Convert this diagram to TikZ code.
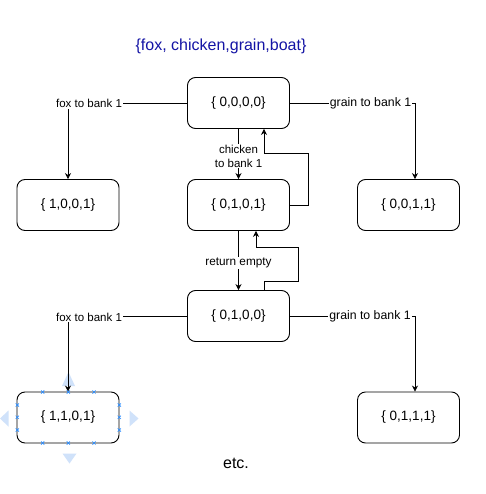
\documentclass[tikz,border=0pt]{standalone}
\usepackage{fontspec}
\setmainfont{Liberation Sans}
\usetikzlibrary{arrows.meta}
\definecolor{titleblue}{RGB}{20,20,165}
\definecolor{handlefill}{RGB}{208,226,250}
\definecolor{handlemark}{RGB}{40,140,255}
\tikzset{
  statebox/.style={draw, line width=0.9pt, rounded corners=8pt, minimum width=102pt, minimum height=51pt, inner sep=0pt, font=\fontsize{13.5}{15}\selectfont},
  edgelbl/.style={fill=white, inner sep=1pt, font=\fontsize{11.5}{13}\selectfont},
  link/.style={line width=0.8pt, -{Stealth[length=6pt,width=6pt]}},
  xmark/.pic={\draw[handlemark, line width=0.7pt] (-1.6,-1.6) -- (1.6,1.6) (-1.6,1.6) -- (1.6,-1.6);}
}
\begin{document}
\begin{tikzpicture}[x=1pt,y=-1pt]
\useasboundingbox[fill=white] (0,0) rectangle (485,494);

% title and footer
\node[text=titleblue, font=\fontsize{16}{18}\selectfont] (title) at (221,46) {\{fox, chicken,grain,boat\}};
\node[font=\fontsize{16}{18}\selectfont] (etc) at (236,463) {etc.};

% selection handles (under)
\fill[handlefill] (68.5,372) -- (75,386) -- (62,386) -- cycle;
\fill[handlefill] (0,418.5) -- (8.5,410.5) -- (8.5,426.5) -- cycle;
\fill[handlefill] (138.5,418.5) -- (129.5,410.5) -- (129.5,426.5) -- cycle;
\fill[handlefill] (69.5,463.5) -- (62.5,453.5) -- (76.5,453.5) -- cycle;

% states
\node[statebox] (n0) at (238.5,103) {\{ 0,0,0,0\}};
\node[statebox] (n1) at (68,205) {\{ 1,0,0,1\}};
\node[statebox] (n2) at (238.5,205) {\{ 0,1,0,1\}};
\node[statebox] (n3) at (408.5,205) {\{ 0,0,1,1\}};
\node[statebox] (n4) at (238.5,316) {\{ 0,1,0,0\}};
\node[statebox] (n5) at (68,417.5) {\{ 1,1,0,1\}};
\node[statebox] (n6) at (408.5,417.5) {\{ 0,1,1,1\}};

% connectors
\draw[link] (n0.west) -| (n1.north);
\draw[link] (n0.east) -| ([xshift=6.5pt]n3.north);
\draw[link] (n0.south) -- (n2.north);
\draw[link] (n2.east) -- ++(18,0) |- ([xshift=25.5pt,yshift=-24.5pt]n0.south) -- ([xshift=25.5pt]n0.south);
\draw[link] (n2.south) -- (n4.north);
\draw[link] ([xshift=25.5pt]n4.north) -- ++(0,-9) -| (298,247) -| ([xshift=17.5pt]n2.south);
\draw[link] (n4.west) -| (n5.north);
\draw[link] (n4.east) -| ([xshift=6.5pt]n6.north);

% edge labels
\node[edgelbl] (l1) at (89,103.5) {fox to bank 1};
\node[edgelbl, font=\fontsize{12.3}{14}\selectfont] (l2) at (370.5,103.5) {grain to bank 1};
\node[edgelbl, align=center, font=\fontsize{11.5}{14}\selectfont] (l3) at (238.5,156) {chicken\\to bank 1};
\node[edgelbl, font=\fontsize{11.8}{14}\selectfont] (l4) at (238.5,263) {return empty};
\node[edgelbl] (l5) at (89,317) {fox to bank 1};
\node[edgelbl, font=\fontsize{12.3}{14}\selectfont] (l6) at (370,316) {grain to bank 1};

% selection markers
\foreach \px in {42.7,68.3,94}{
  \pic at (\px,392) {xmark};
  \pic at (\px,443) {xmark};
}
\foreach \py in {405,417.3,430}{
  \pic at (17.3,\py) {xmark};
  \pic at (119.3,\py) {xmark};
}
\end{tikzpicture}
\end{document}
